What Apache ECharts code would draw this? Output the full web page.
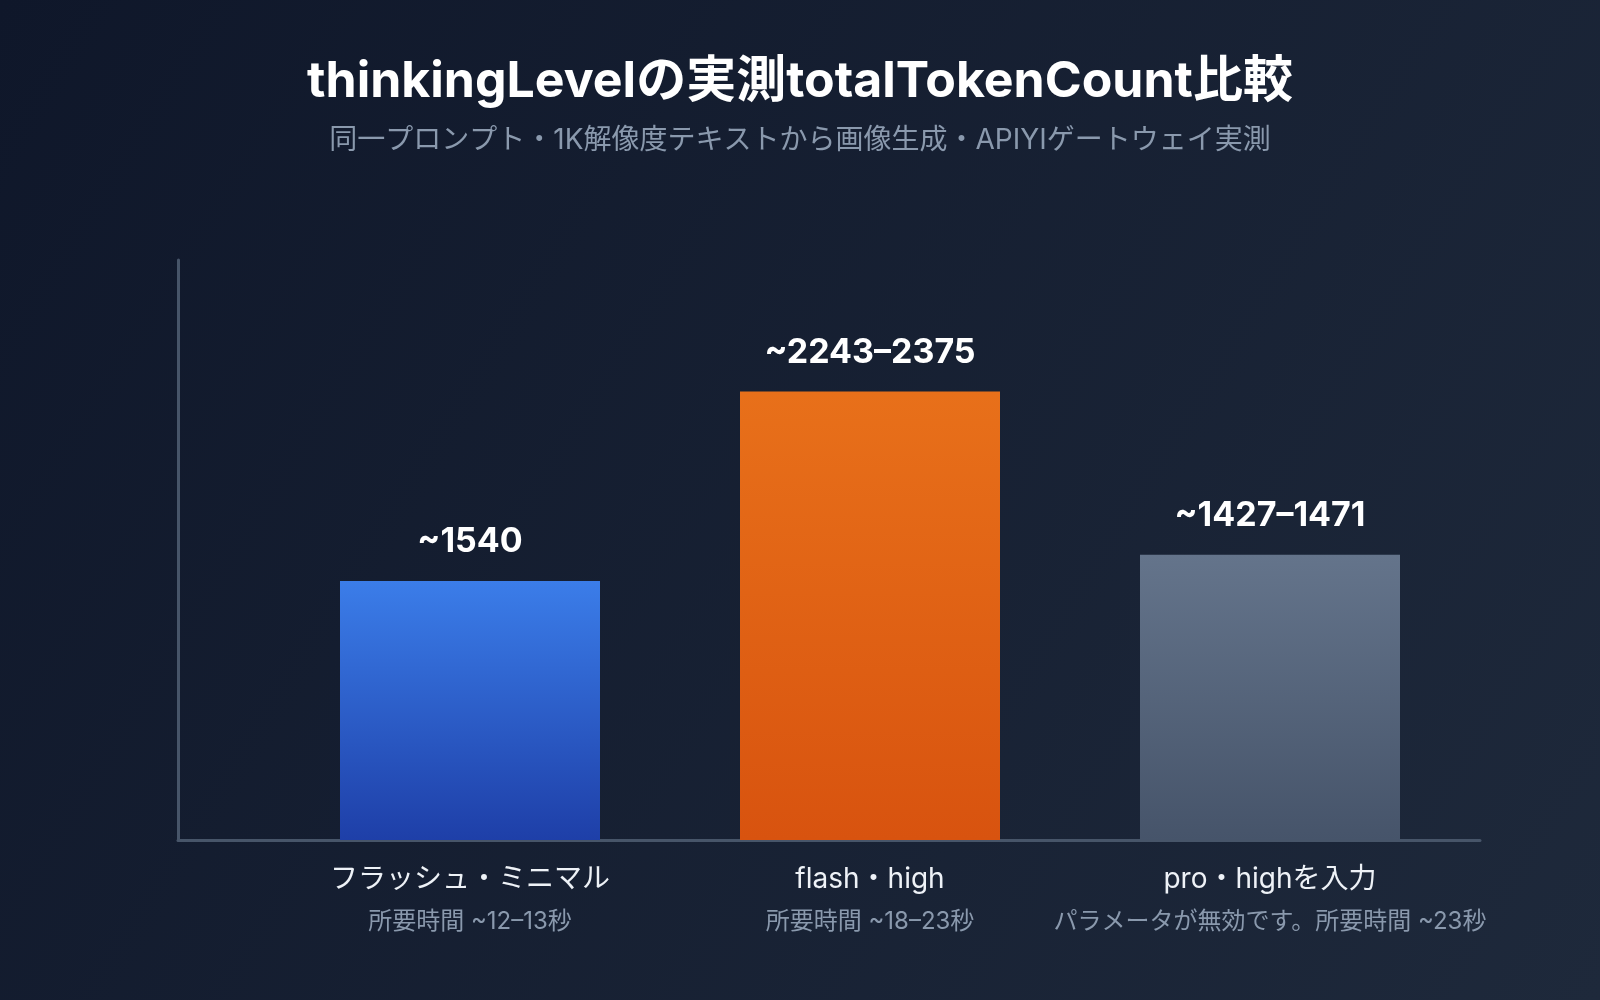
<!DOCTYPE html>
<html>
<head>
<meta charset="utf-8">
<title>thinkingLevel totalTokenCount</title>
<script src="https://cdn.jsdelivr.net/npm/echarts@6/dist/echarts.min.js"></script>
<style>
  html, body { margin: 0; padding: 0; background: #0f172a; }
  #main { width: 1600px; height: 1000px; }
</style>
</head>
<body>
<div id="main"></div>
<script>
// カテゴリと値（バーの高さは画像から読み取り）
var categories = ['フラッシュ・ミニマル', 'flash・high', 'pro・highを入力'];
var subLabels = ['所要時間 ~12–13秒', '所要時間 ~18–23秒', 'パラメータが無効です。所要時間 ~23秒'];
var tokenValues = [1340, 2320, 1475];
var valueLabels = ['~1540', '~2243–2375', '~1427–1471'];

var barColors = [
	['#3b7de9', '#1e3fa8'],
	['#e8701a', '#d8530f'],
	['#64748b', '#46546a']
];

var font = "Inter, 'Noto Sans CJK JP', sans-serif";

function initChart() {
	var myChart = echarts.init(document.getElementById('main'));

	var seriesData = tokenValues.map(function (v, i) {
		return {
			value : v,
			itemStyle : {
				color : new echarts.graphic.LinearGradient(0, 0, 0, 1, [
					{ offset : 0, color : barColors[i][0] },
					{ offset : 1, color : barColors[i][1] }
				])
			},
			label : { formatter : valueLabels[i] }
		};
	});

	myChart.setOption({
		backgroundColor : new echarts.graphic.LinearGradient(0, 0, 1, 1, [
			{ offset : 0, color : '#0f172a' },
			{ offset : 1, color : '#1e293b' }
		]),
		textStyle : { fontFamily : font },
		title : {
			text : 'thinkingLevelの実測totalTokenCount比較',
			subtext : '同一プロンプト・1K解像度テキストから画像生成・APIYIゲートウェイ実測',
			left : 'center',
			top : 52,
			itemGap : 20,
			textStyle : {
				color : '#ffffff',
				fontSize : 50,
				fontWeight : 'bold',
				fontFamily : font
			},
			subtextStyle : {
				color : '#8a99ad',
				fontSize : 28,
				fontFamily : font
			}
		},
		grid : [
			// バー用
			{ left : 270, right : 130, top : 260, bottom : 160 },
			// 軸線だけ
			{ left : 178, right : 120, top : 260, bottom : 160 }
		],
		xAxis : [ {
			type : 'category',
			gridIndex : 0,
			data : categories,
			axisLine : { show : false },
			axisTick : { show : false },
			axisLabel : {
				margin : 19,
				formatter : function (val, idx) {
					return '{main|' + val + '}\n{sub|' + subLabels[idx] + '}';
				},
				rich : {
					main : { color : '#eef2f7', fontSize : 28, lineHeight : 42, fontFamily : font },
					sub : { color : '#8a99ad', fontSize : 24, lineHeight : 42, fontFamily : font }
				}
			}
		}, {
			type : 'value',
			gridIndex : 1,
			axisLine : { show : true, lineStyle : { color : '#475569', width : 3 } },
			axisTick : { show : false },
			axisLabel : { show : false },
			splitLine : { show : false }
		} ],
		yAxis : [ {
			type : 'value',
			gridIndex : 0,
			min : 0,
			max : 3000,
			show : false,
			splitLine : { show : false }
		}, {
			type : 'value',
			gridIndex : 1,
			axisLine : { show : true, lineStyle : { color : '#475569', width : 3 } },
			axisTick : { show : false },
			axisLabel : { show : false },
			splitLine : { show : false }
		} ],
		series : [ {
			type : 'bar',
			xAxisIndex : 0,
			yAxisIndex : 0,
			barWidth : 260,
			data : seriesData,
			label : {
				show : true,
				position : 'top',
				distance : 22,
				color : '#ffffff',
				fontSize : 34,
				fontWeight : 'bold',
				fontFamily : font
			}
		} ]
	});
}

initChart();
</script>
</body>
</html>
